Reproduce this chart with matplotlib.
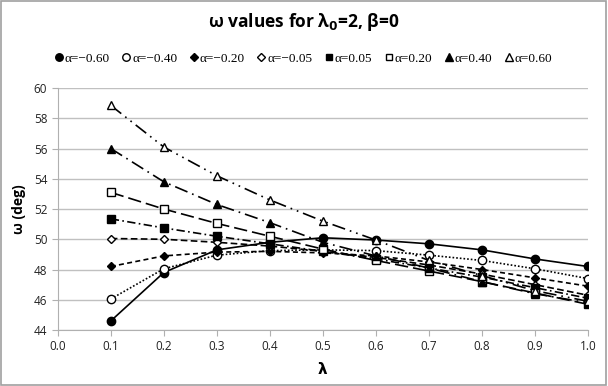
import matplotlib.pyplot as plt
from matplotlib.patches import Rectangle

lam = [0.1, 0.2, 0.3, 0.4, 0.5, 0.6, 0.7, 0.8, 0.9, 1.0]
labels = ["α=−0.60", "α=−0.40", "α=−0.20", "α=−0.05", "α=0.05", "α=0.20", "α=0.40", "α=0.60"]

w_m060 = [44.6, 47.8, 49.3, 49.8, 50.1, 49.95, 49.7, 49.3, 48.7, 48.2]
w_m040 = [46.05, 48.05, 48.95, 49.25, 49.3, 49.25, 48.95, 48.6, 48.05, 47.4]
w_m020 = [48.2, 48.9, 49.15, 49.2, 49.1, 48.9, 48.5, 48.0, 47.45, 46.9]
w_m005 = [50.05, 50.0, 49.8, 49.55, 49.2, 48.8, 48.3, 47.7, 47.0, 46.3]
w_p005 = [51.35, 50.75, 50.2, 49.7, 49.2, 48.7, 48.1, 47.5, 46.8, 46.1]
w_p020 = [53.1, 52.0, 51.05, 50.2, 49.35, 48.6, 47.9, 47.2, 46.45, 45.7]
w_p040 = [56.0, 53.8, 52.3, 51.1, 49.8, 48.9, 48.1, 47.2, 46.4, 45.8]
w_p060 = [58.85, 56.1, 54.2, 52.6, 51.2, 49.95, 48.6, 47.6, 46.6, 45.9]

series = [w_m060, w_m040, w_m020, w_m005, w_p005, w_p020, w_p040, w_p060]
markers = ["o", "o", "D", "D", "s", "s", "^", "^"]
fills = ["black", "white", "black", "white", "black", "white", "black", "white"]
styles = ["-", (0, (1, 1.2)), (0, (3, 2)), (0, (4, 2)), (0, (5, 2, 1, 2)),
          (0, (8, 3)), (0, (8, 3, 1, 3)), (0, (8, 3, 1, 3, 1, 3))]
msizes = [6, 6, 4.5, 4.5, 5.5, 5.5, 6, 6]

fig = plt.figure(figsize=(6.08, 3.86), dpi=100)
ax = fig.add_axes([0.095, 0.145, 0.872, 0.627])

for i in range(len(series)):
    ax.plot(lam, series[i], color="black", linestyle=styles[i], linewidth=1.2,
            marker=markers[i], markerfacecolor=fills[i], markeredgecolor="black",
            markersize=msizes[i], markeredgewidth=1.0, label=labels[i])

ax.set_xlim(0, 1.0)
ax.set_ylim(44, 60)
ax.set_xticks([i / 10 for i in range(11)])
ax.set_xticklabels(["%.1f" % (i / 10) for i in range(11)])
ax.set_yticks(range(44, 61, 2))
ax.grid(axis="y", color="#c0c0c0", linewidth=1)
ax.set_axisbelow(True)
for s in ["top", "right"]:
    ax.spines[s].set_visible(False)
for s in ["left", "bottom"]:
    ax.spines[s].set_color("#b0b0b0")
ax.tick_params(colors="#b0b0b0", labelcolor="#222222", labelsize=9, length=4)
for t in ax.get_xticklabels() + ax.get_yticklabels():
    t.set_family("Open Sans")
    t.set_fontsize(8.5)

ax.set_ylabel("ω (deg)", fontsize=10, fontweight="bold", family="Open Sans", labelpad=6)
ax.set_xlabel("λ", fontsize=11, fontweight="bold", labelpad=6)

fig.text(0.5, 0.943, r"ω values for λ$_\mathbf{0}$=2, β=0", ha="center", va="center",
         fontsize=12.5, fontweight="bold", family="Open Sans")

leg = fig.legend(loc="center", bbox_to_anchor=(0.5, 0.848), ncol=8, frameon=False,
                 prop={"family": "Liberation Serif", "size": 9.5},
                 handlelength=0.5, handletextpad=0.2, columnspacing=1.0,
                 markerscale=0.9)
for h in leg.legend_handles:
    h.set_linestyle("None")

fig.patches.append(Rectangle((0.002, 0.003), 0.995, 0.994, transform=fig.transFigure,
                             fill=False, edgecolor="#a0a0a0", linewidth=1.2))

fig.savefig("out.png", dpi=100)
